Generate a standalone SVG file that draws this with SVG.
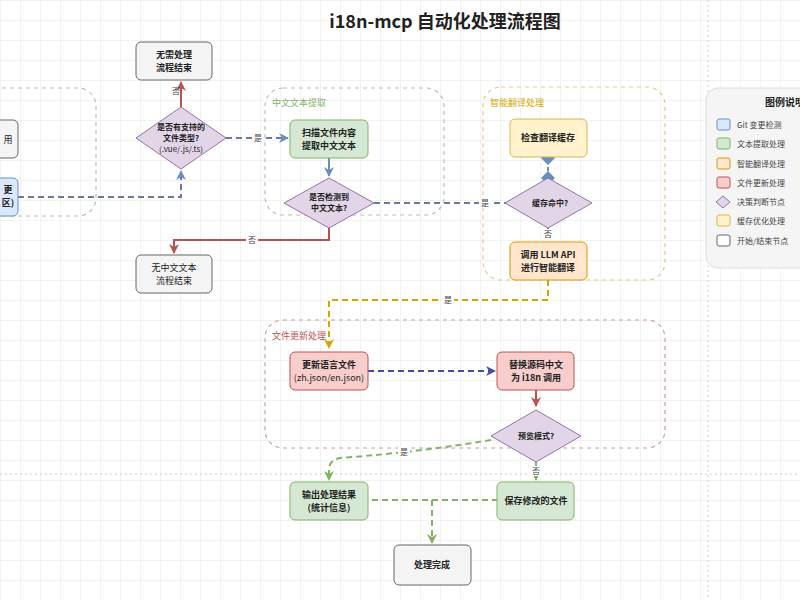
<svg xmlns="http://www.w3.org/2000/svg" width="800" height="600" viewBox="0 0 800 600">
<style>
text{font-family:"Noto Sans CJK SC","Noto Sans",sans-serif;font-size:9px;fill:#222;text-anchor:middle}
.b{font-weight:bold}
.n{stroke-width:1}
.gray{fill:#f5f5f5;stroke:#666}
.blue{fill:#dae8fc;stroke:#6c8ebf}
.green{fill:#d5e8d4;stroke:#82b366}
.orange{fill:#ffe6cc;stroke:#d79b00}
.yellow{fill:#fff2cc;stroke:#d6b656}
.red{fill:#f8cecc;stroke:#b85450}
.dia{fill:#e1d5e7;stroke:#9673a6}
.grp{fill:none;stroke:#bbb;stroke-width:1.2;stroke-dasharray:4 4}
.c{fill:none;stroke-width:2}
.lbl{font-size:8px;fill:#444}
.lg{text-anchor:start;font-size:8px;fill:#444}
</style>
<defs>
<pattern id="grid" width="20" height="20" patternUnits="userSpaceOnUse"><path d="M20 0H0V20" fill="none" stroke="#e6e6e6" stroke-width="1"/></pattern>
<marker id="aR" viewBox="0 0 10 10" refX="9" refY="5" markerWidth="5" markerHeight="5" orient="auto"><path d="M0 0L10 5L0 10L3 5z" fill="#b85450"/></marker>
<marker id="aB" viewBox="0 0 10 10" refX="9" refY="5" markerWidth="5" markerHeight="5" orient="auto"><path d="M0 0L10 5L0 10L3 5z" fill="#6c8ebf"/></marker>
<marker id="aG" viewBox="0 0 10 10" refX="9" refY="5" markerWidth="5" markerHeight="5" orient="auto"><path d="M0 0L10 5L0 10L3 5z" fill="#82b366"/></marker>
<marker id="aO" viewBox="0 0 10 10" refX="9" refY="5" markerWidth="5" markerHeight="5" orient="auto"><path d="M0 0L10 5L0 10L3 5z" fill="#d6a600"/></marker>
<marker id="aD" viewBox="0 0 10 10" refX="9" refY="5" markerWidth="5" markerHeight="5" orient="auto"><path d="M0 0L10 5L0 10L3 5z" fill="#3b4fb0"/></marker>
<marker id="dB" viewBox="0 0 10 10" refX="5" refY="5" markerWidth="7" markerHeight="7" orient="auto"><path d="M0 5L5 0L10 5L5 10z" fill="#6c8ebf"/></marker>
</defs>
<rect width="800" height="600" fill="#fff"/>
<rect width="800" height="600" fill="url(#grid)"/>
<line x1="0" y1="474" x2="800" y2="474" stroke="#ccc" stroke-dasharray="2 3"/>
<line x1="708" y1="0" x2="708" y2="600" stroke="#ccc" stroke-dasharray="2 3"/>
<text x="445" y="28" class="b" style="font-size:18px">i18n-mcp 自动化处理流程图</text>

<g id="groups">
<rect class="grp" x="-40" y="88" width="136" height="128" rx="18"/>
<rect class="grp" x="265" y="88" width="179" height="127" rx="18"/>
<text x="272" y="106" style="text-anchor:start;fill:#82b366">中文文本提取</text>
<rect class="grp" x="483" y="87" width="182" height="193" rx="18" style="stroke:#e6c98a"/>
<text x="490" y="106" style="text-anchor:start;fill:#d6a600">智能翻译处理</text>
<rect class="grp" x="265" y="320" width="400" height="128" rx="18" style="stroke:#c9a0a0"/>
<text x="272" y="339" style="text-anchor:start;fill:#b85450">文件更新处理</text>
</g>

<g id="connectors">
<path class="c" d="M181 107V82" stroke="#b85450" marker-end="url(#aR)"/>
<text x="176" y="94" class="lbl">否</text>
<path class="c" d="M18 197H181V171" stroke="#6c7a99" stroke-dasharray="6 4" marker-end="url(#aB)"/>
<path class="c" d="M226 138H288" stroke="#6c7a99" stroke-dasharray="6 4" marker-end="url(#aB)"/>
<rect x="252" y="132" width="12" height="11" fill="#fff"/><text x="258" y="141" class="lbl">是</text>
<path class="c" d="M329 158V176" stroke="#6c8ebf" marker-end="url(#aB)"/>
<path class="c" d="M329 228V240H174V253" stroke="#b85450" marker-end="url(#aR)"/>
<rect x="246" y="234" width="12" height="11" fill="#fff"/><text x="252" y="243" class="lbl">否</text>
<path class="c" d="M374 203H525" stroke="#6c7a99" stroke-dasharray="6 4"/>
<rect x="479" y="197" width="12" height="11" fill="#fff"/><text x="485" y="206" class="lbl">是</text>
<path class="c" d="M548 178V158" stroke="#6c8ebf" stroke-dasharray="4 3" marker-start="url(#dB)" marker-end="url(#dB)"/>
<path class="c" d="M548 228V242" stroke="#6c7a99" stroke-dasharray="4 3"/>
<rect x="542" y="229" width="12" height="10" fill="#fff"/><text x="548" y="237" class="lbl">否</text>
<path class="c" d="M548 280V300H329V348" stroke="#d6a600" stroke-dasharray="6 4" marker-end="url(#aO)"/>
<rect x="442" y="294" width="12" height="11" fill="#fff"/><text x="448" y="303" class="lbl">是</text>
<path class="c" d="M368 371H495" stroke="#3b4fb0" stroke-dasharray="6 4" marker-end="url(#aD)"/>
<path class="c" d="M536 390V406" stroke="#b85450" marker-end="url(#aR)"/>
<path class="c" d="M491 440Q420 452 340 458Q329 460 329 470V480" stroke="#82b366" stroke-dasharray="6 4" marker-end="url(#aG)"/>
<rect x="398" y="446" width="12" height="11" fill="#fff"/><text x="404" y="455" class="lbl">是</text>
<path class="c" d="M536 462V480" stroke="#82b366" stroke-dasharray="4 3" marker-end="url(#aG)"/>
<rect x="530" y="466" width="12" height="10" fill="#fff"/><text x="536" y="474" class="lbl">否</text>
<path class="c" d="M372 500H497" stroke="#82b366" stroke-dasharray="6 4"/>
<path class="c" d="M432 500V543" stroke="#82b366" stroke-dasharray="6 4" marker-end="url(#aG)"/>
</g>

<g id="n_left1"><rect class="gray" x="-60" y="120" width="78" height="38" rx="5"/><text x="8" y="143">用</text></g>
<g id="n_left2"><rect class="blue" x="-60" y="178" width="78" height="38" rx="5"/><text x="8" y="193" class="b">更</text><text x="8" y="206" class="b">区)</text></g>
<g id="n_noproc"><rect class="gray" x="136" y="42" width="76" height="38" rx="5"/><text x="174" y="58" class="b">无需处理</text><text x="174" y="71" class="b">流程结束</text></g>
<g id="d_type"><path class="dia" d="M181 107L226 138L181 169L136 138z"/><text x="181" y="130" style="font-size:8px" class="b">是否有支持的</text><text x="181" y="141" style="font-size:8px" class="b">文件类型?</text><text x="181" y="152" style="font-size:8px">(.vue/.js/.ts)</text></g>
<g id="n_scan"><rect class="green" x="290" y="120" width="78" height="38" rx="5"/><text x="329" y="136" class="b">扫描文件内容</text><text x="329" y="149" class="b">提取中文文本</text></g>
<g id="d_cn"><path class="dia" d="M329 178L374 203L329 228L284 203z"/><text x="329" y="200" style="font-size:8px" class="b">是否检测到</text><text x="329" y="211" style="font-size:8px" class="b">中文文本?</text></g>
<g id="n_nocn"><rect class="gray" x="136" y="255" width="76" height="38" rx="5"/><text x="174" y="271">无中文文本</text><text x="174" y="284">流程结束</text></g>
<g id="n_cache"><rect class="yellow" x="510" y="119" width="77" height="38" rx="5"/><text x="548" y="141" class="b">检查翻译缓存</text></g>
<g id="d_hit"><path class="dia" d="M548 178L592 203L548 228L505 203z"/><text x="550" y="206" style="font-size:8px" class="b">缓存命中?</text></g>
<g id="n_llm"><rect class="orange" x="510" y="242" width="77" height="38" rx="5"/><text x="548" y="258" class="b">调用 LLM API</text><text x="548" y="271" class="b">进行智能翻译</text></g>
<g id="n_lang"><rect class="red" x="290" y="352" width="78" height="38" rx="5"/><text x="329" y="368" class="b">更新语言文件</text><text x="329" y="381">(zh.json/en.json)</text></g>
<g id="n_replace"><rect class="red" x="497" y="352" width="77" height="38" rx="5"/><text x="536" y="368" class="b">替换源码中文</text><text x="536" y="381" class="b">为 i18n 调用</text></g>
<g id="d_preview"><path class="dia" d="M536 410L581 436L536 462L491 436z"/><text x="536" y="439" style="font-size:8px" class="b">预览模式?</text></g>
<g id="n_out"><rect class="green" x="290" y="482" width="78" height="38" rx="5"/><text x="329" y="498" class="b">输出处理结果</text><text x="329" y="511" class="b">(统计信息)</text></g>
<g id="n_save"><rect class="green" x="497" y="482" width="77" height="38" rx="5"/><text x="536" y="504" class="b">保存修改的文件</text></g>
<g id="n_done"><rect class="gray" x="394" y="545" width="77" height="40" rx="5"/><text x="432" y="568" class="b">处理完成</text></g>

<g id="legend">
<rect x="706" y="88" width="120" height="180" rx="12" fill="#f5f5f5" stroke="#ddd"/>
<text x="765" y="106" class="b" style="text-anchor:start;font-size:10px">图例说明</text>
<rect class="blue" x="717" y="119" width="13" height="11" rx="2"/><text x="737" y="128" class="lg">Git 变更检测</text>
<rect class="green" x="717" y="138" width="13" height="11" rx="2"/><text x="737" y="147" class="lg">文本提取处理</text>
<rect class="orange" x="717" y="158" width="13" height="11" rx="2"/><text x="737" y="167" class="lg">智能翻译处理</text>
<rect class="red" x="717" y="177" width="13" height="11" rx="2"/><text x="737" y="186" class="lg">文件更新处理</text>
<path class="dia" d="M723 196L730 202L723 208L716 202z"/><text x="737" y="205" class="lg">决策判断节点</text>
<rect class="yellow" x="717" y="215" width="13" height="11" rx="2"/><text x="737" y="224" class="lg">缓存优化处理</text>
<rect x="717" y="235" width="13" height="11" rx="2" fill="#fff" stroke="#666"/><text x="737" y="244" class="lg">开始/结束节点</text>
</g>
</svg>
